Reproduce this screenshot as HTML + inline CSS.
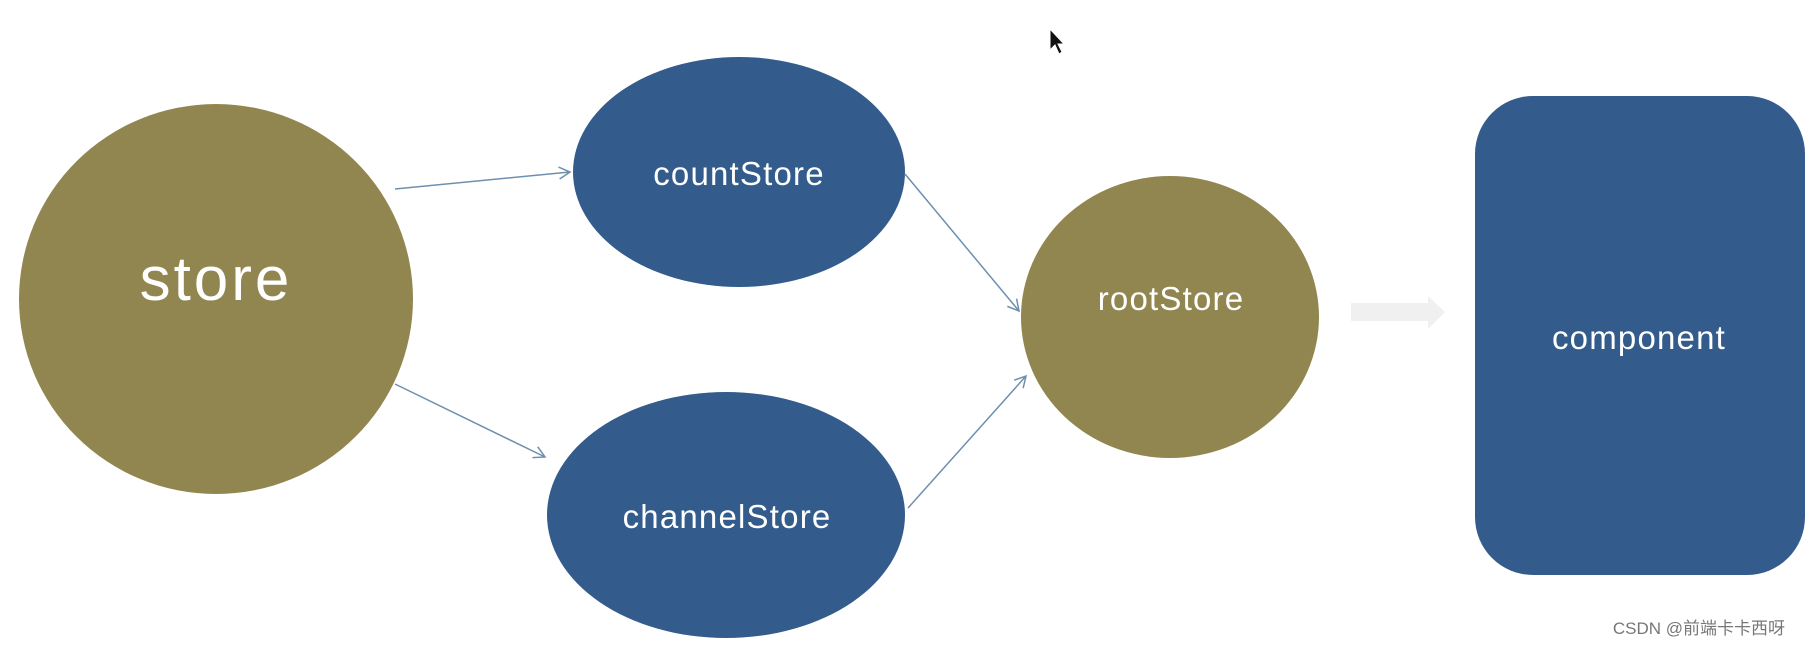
<!DOCTYPE html>
<html><head><meta charset="utf-8"><style>
html,body{margin:0;padding:0;background:#fff;}
svg{display:block}
text{font-family:"Liberation Sans","Noto Sans CJK SC",sans-serif;}
</style></head><body>
<svg width="1818" height="648" viewBox="0 0 1818 648" xmlns="http://www.w3.org/2000/svg">
<defs>
<marker id="a" markerWidth="14" markerHeight="14" refX="12" refY="7" orient="auto" markerUnits="userSpaceOnUse">
<path d="M1,1 L12,7 L1,13" fill="none" stroke="#6f8fae" stroke-width="1.5"/>
</marker>
</defs>
<ellipse cx="216" cy="299" rx="197" ry="195" fill="#928650"/>
<ellipse cx="739" cy="172" rx="166" ry="115" fill="#335c8c"/>
<ellipse cx="726" cy="515" rx="179" ry="123" fill="#335c8c"/>
<ellipse cx="1170" cy="317" rx="149" ry="141" fill="#928650"/>
<rect x="1475" y="96" width="330" height="479" rx="58" ry="58" fill="#335c8c"/>
<polygon points="1351,303 1428,303 1428,296 1445,312 1428,329 1428,321 1351,321" fill="#f0f0f0"/>
<g stroke="#6f8fae" stroke-width="1.5" fill="none" marker-end="url(#a)">
<line x1="395" y1="189" x2="570" y2="172"/>
<line x1="395" y1="384" x2="545" y2="457"/>
<line x1="905" y1="174" x2="1019" y2="311"/>
<line x1="908" y1="508" x2="1026" y2="376"/>
</g>
<g fill="#fff" text-anchor="middle">
<text x="216" y="300" font-size="62" letter-spacing="3">store</text>
<text x="739" y="185" font-size="33" letter-spacing="1.2">countStore</text>
<text x="1171" y="310" font-size="33" letter-spacing="1.2">rootStore</text>
<text x="727" y="528" font-size="33" letter-spacing="1.2">channelStore</text>
<text x="1639" y="349" font-size="33" letter-spacing="1.2">component</text>
</g>
<path d="M1050,29 L1050,50 L1055,45 L1059,54 L1062,52 L1058,44 L1064,44 Z" fill="#111" stroke="#fff" stroke-width="1"/>
<text x="1785" y="634" font-size="17" fill="#777" text-anchor="end">CSDN @前端卡卡西呀</text>
</svg>
</body></html>
